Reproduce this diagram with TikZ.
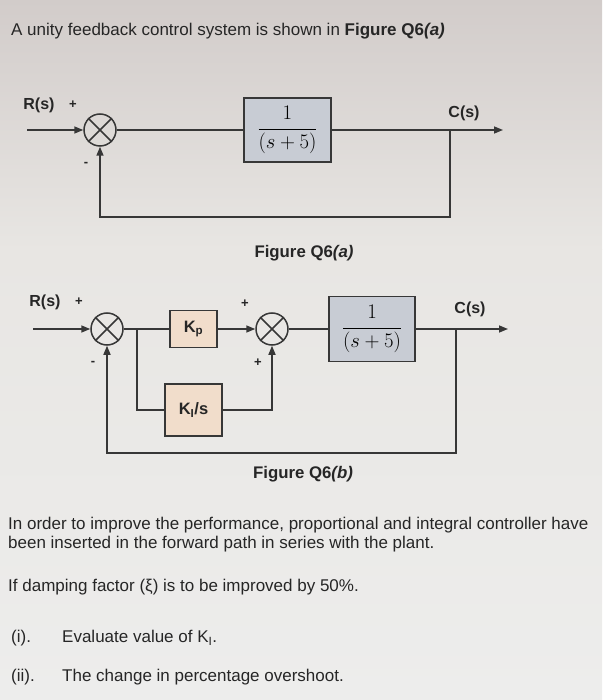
\documentclass[tikz,border=0pt]{standalone}
\usepackage{fontspec}
\setmainfont{Liberation Sans}
\usetikzlibrary{arrows.meta,calc}
\definecolor{ln}{RGB}{55,55,55}
\definecolor{txt}{RGB}{38,38,38}
\definecolor{plantfill}{RGB}{200,204,212}
\definecolor{ctrlfill}{RGB}{241,221,203}
\definecolor{bgtop}{RGB}{210,204,202}
\definecolor{bgmid}{RGB}{232,230,227}
\definecolor{bgbot}{RGB}{237,237,236}
\begin{document}
\begin{tikzpicture}[x=1pt,y=-1pt,
  wire/.style={draw=ln,line width=1.5pt},
  arr/.style={wire,-{Triangle[length=9pt,width=7pt]}},
  sumj/.style={circle,draw=ln,line width=1.5pt,minimum size=32pt,inner sep=0pt},
  plantbox/.style={draw=ln,line width=1.5pt,fill=plantfill,inner sep=0pt,font=\fontsize{20}{24}\selectfont},
  ctrlbox/.style={draw=ln,line width=1.5pt,fill=ctrlfill,inner sep=0pt,text=txt,font=\fontsize{16.5}{20}\selectfont\bfseries},
  lbl/.style={text=txt,inner sep=0pt,font=\fontsize{16}{19}\selectfont\bfseries},
  figcap/.style={text=txt,inner sep=0pt,font=\fontsize{16.8}{20}\selectfont\bfseries},
  sgn/.style={text=txt,inner sep=0pt,font=\fontsize{13}{15}\selectfont\bfseries},
  body/.style={text=txt,inner sep=0pt,anchor=west,font=\fontsize{17}{20}\selectfont},
]
\shade[top color=bgtop,bottom color=bgmid] (0,0) rectangle (602,250);
\shade[top color=bgmid,bottom color=bgbot] (0,250) rectangle (602,700);
\useasboundingbox (0,0) rectangle (602,700);

% title
\node[body] (title) at (11,31) {A unity feedback control system is shown in \textbf{Figure Q6\textit{(a)}}};

% ---------- Figure Q6(a)
\node[lbl] (Ra) at (39,105) {R(s)};
\node[sgn] (pa) at (73,105) {+};
\node[sgn] (ma) at (86,164) {-};
\node[sumj] (s1) at (100,130) {};
\draw[wire] (s1.north west) -- (s1.south east) (s1.north east) -- (s1.south west);
\node[plantbox,minimum width=87pt,minimum height=64pt] (Ga) at (287.5,130) {$\displaystyle\frac{1}{(s+5)}$};
\node[lbl] (Ca) at (464,113) {C(s)};
\coordinate (ina) at (27,130);
\coordinate (outa) at (503,130);
\coordinate (bra) at (450,130);
\coordinate (fba) at (450,217);
\draw[arr] (ina) -- (s1.west);
\draw[wire] (s1.east) -- (Ga.west);
\draw[arr] (Ga.east) -- (outa);
\draw[arr] (bra) -- (fba) -| (s1.south);
\node[figcap] (capa) at (304,253) {Figure Q6\textit{(a)}};

% ---------- Figure Q6(b)
\node[lbl] (Rb) at (45,302) {R(s)};
\node[sgn] (pb) at (79,302) {+};
\node[sgn] (mb) at (93,363) {-};
\node[sumj] (s2) at (107,329) {};
\draw[wire] (s2.north west) -- (s2.south east) (s2.north east) -- (s2.south west);
\node[ctrlbox,minimum width=47pt,minimum height=37pt] (Kp) at (193.5,329) {K\textsubscript{p}};
\node[ctrlbox,minimum width=57pt,minimum height=52pt] (Ki) at (193.5,410) {K\textsubscript{I}/s};
\node[sumj] (s3) at (272,329) {};
\draw[wire] (s3.north west) -- (s3.south east) (s3.north east) -- (s3.south west);
\node[sgn] (pt) at (245,304) {+};
\node[sgn] (pbt) at (258,363) {+};
\node[plantbox,minimum width=86pt,minimum height=65pt] (Gb) at (372,329) {$\displaystyle\frac{1}{(s+5)}$};
\node[lbl] (Cb) at (470,309) {C(s)};
\coordinate (inb) at (33,329);
\coordinate (outb) at (508,329);
\coordinate (brk) at (137,329);
\coordinate (brb) at (456,329);
\coordinate (fbb) at (456,453);
\draw[arr] (inb) -- (s2.west);
\draw[wire] (s2.east) -- (Kp.west);
\draw[wire] (brk) |- (Ki.west);
\draw[arr] (Kp.east) -- (s3.west);
\draw[arr] (Ki.east) -| (s3.south);
\draw[wire] (s3.east) -- (Gb.west);
\draw[arr] (Gb.east) -- (outb);
\draw[arr] (brb) -- (fbb) -| (s2.south);
\node[figcap] (capb) at (303,474) {Figure Q6\textit{(b)}};

% ---------- text
\node[body] (p1) at (8,525) {In order to improve the performance, proportional and integral controller have};
\node[body] (p2) at (8,544) {been inserted in the forward path in series with the plant.};
\node[body] (p3) at (8,587) {If damping factor (ξ) is to be improved by 50\%.};
\node[body] (i1) at (11,638) {(i).};
\node[body] (i1t) at (62,638) {Evaluate value of K\textsubscript{I}.};
\node[body] (i2) at (11,677) {(ii).};
\node[body] (i2t) at (62,677) {The change in percentage overshoot.};
\end{tikzpicture}
\end{document}
